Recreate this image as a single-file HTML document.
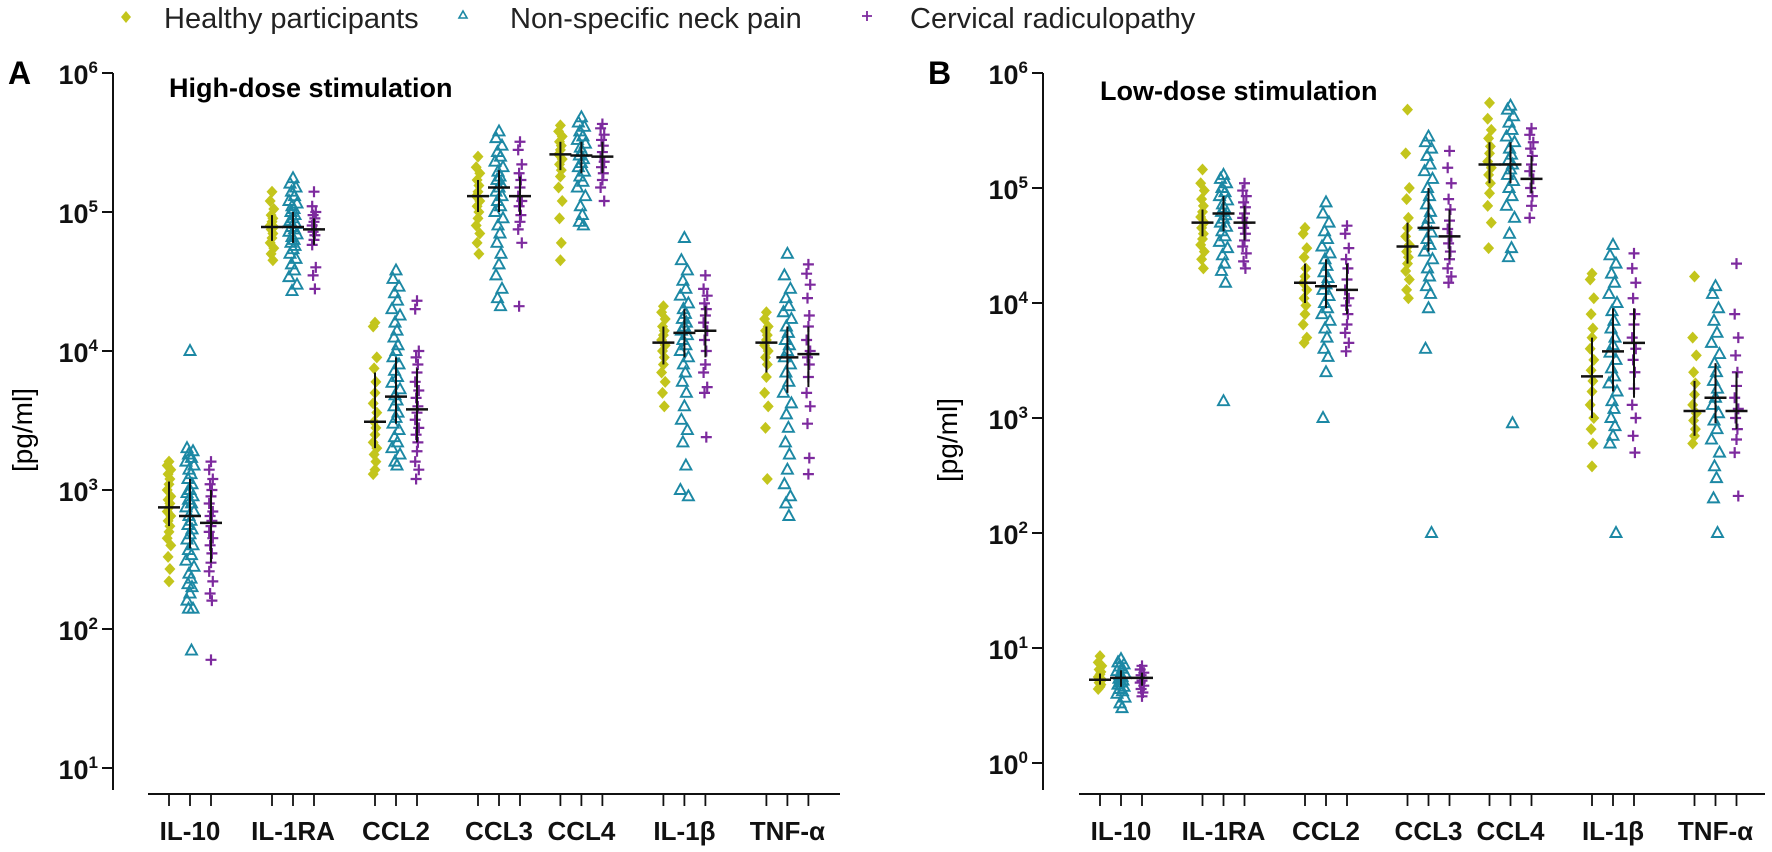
<!DOCTYPE html>
<html><head><meta charset="utf-8"><style>
html,body{margin:0;padding:0;background:#fff}
svg{display:block;font-family:"Liberation Sans",Arial,sans-serif}
</style></head><body>
<svg id="chart" width="1772" height="852" viewBox="0 0 1772 852" xmlns="http://www.w3.org/2000/svg">
<g>
<g><path d="M126 11 L131 17 L126 23 L121 17Z" fill="#c3c51c"/><text x="164" y="28" font-size="29" fill="#222">Healthy participants</text></g>
<g><path d="M463 11 L467 18 L459 18Z" fill="none" stroke="#1c88a4" stroke-width="1.6"/><text x="510" y="28" font-size="29" fill="#222">Non-specific neck pain</text></g>
<g><path d="M867 11 V21 M862 16 H872" stroke="#7d2a9e" stroke-width="1.8"/><text x="910" y="28" font-size="29" fill="#222">Cervical radiculopathy</text></g>
</g>
<text x="8" y="84" font-size="32" font-weight="bold">A</text>
<text x="928" y="84" font-size="32" font-weight="bold">B</text>
<text x="169" y="97" font-size="27" font-weight="bold">High-dose stimulation</text>
<text x="1100" y="100" font-size="27" font-weight="bold">Low-dose stimulation</text>
<text transform="translate(32,430) rotate(-90)" text-anchor="middle" font-size="28">[pg/ml]</text>
<text transform="translate(957,440) rotate(-90)" text-anchor="middle" font-size="28">[pg/ml]</text>
</svg>
<script>
const categories = ["IL-10","IL-1RA","CCL2","CCL3","CCL4","IL-1β","TNF-α"];
const groups = ["healthy","neck-pain","radiculopathy"];
// Panel A (high-dose) values, pg/ml
const aHealthy = [
 [1600,1500,1400,1300,1200,1100,1000,900,850,800,750,700,650,600,550,500,450,400,330,270,220],
 [140000,120000,105000,95000,90000,85000,80000,78000,75000,70000,65000,60000,55000,50000,45000],
 [16000,15000,9000,7500,6000,5000,4200,3600,3100,2800,2500,2200,2000,1800,1600,1400,1300],
 [250000,210000,190000,170000,155000,140000,130000,120000,110000,100000,90000,80000,70000,60000,50000],
 [420000,380000,350000,320000,300000,280000,260000,240000,220000,200000,180000,150000,120000,90000,60000,45000],
 [21000,19000,17000,15000,14000,13000,12000,11000,10000,9000,8000,7000,6000,5000,4000],
 [19000,17000,15000,14000,13000,12000,11000,10000,9000,8000,6500,5000,4000,2800,1200]];
const aNeck = [
 [10000,2000,1900,1800,1700,1600,1500,1400,1300,1200,1100,1000,950,900,850,800,750,700,650,600,560,520,480,440,400,370,340,310,280,250,230,210,200,180,160,140,140,70],
 [175000,160000,150000,140000,130000,120000,115000,110000,105000,100000,95000,90000,86000,82000,78000,75000,72000,69000,66000,63000,60000,57000,54000,50000,46000,42000,38000,34000,30000,27000],
 [38000,33000,29000,26000,23000,20000,18000,16000,14000,12500,11000,10000,9000,8000,7200,6500,5900,5300,4800,4400,4000,3600,3300,3000,2700,2400,2200,2000,1800,1600,1500],
 [380000,340000,300000,270000,250000,230000,210000,195000,180000,170000,160000,150000,140000,130000,120000,110000,100000,90000,80000,70000,60000,50000,42000,35000,28000,24000,21000],
 [480000,440000,410000,380000,350000,330000,310000,290000,270000,255000,240000,225000,210000,195000,180000,165000,150000,130000,110000,95000,85000,80000],
 [65000,45000,38000,32000,28000,25000,22000,20000,18500,17000,16000,15000,14000,13000,12000,11000,10000,9000,8000,7000,6000,5000,4000,3200,2700,2200,1500,1000,900],
 [50000,35000,28000,24000,21000,19000,17000,15000,13500,12000,11000,10000,9000,8000,7000,6000,5000,4200,3500,2800,2200,1800,1400,1100,900,800,650]];
const aRadic = [
 [1600,1400,1200,1100,1000,900,800,700,650,600,550,500,450,400,350,300,260,220,180,160,60],
 [140000,110000,100000,95000,90000,85000,80000,75000,72000,68000,63000,58000,40000,35000,28000],
 [23000,20000,10000,9000,8000,7000,6000,5200,4600,4000,3600,3200,2800,2500,2200,1900,1600,1400,1200],
 [320000,280000,220000,190000,170000,150000,130000,120000,110000,95000,85000,75000,60000,21000],
 [430000,400000,360000,330000,300000,270000,250000,230000,210000,190000,170000,150000,120000],
 [35000,28000,25000,22000,20000,18000,16000,14000,12000,10000,8000,7000,5500,5000,2400],
 [42000,36000,30000,24000,18000,15000,12000,10000,9000,8000,6500,5000,4000,3000,1700,1300]];
const aMedian = [[750,650,580],[78000,78000,75000],[3100,4700,3800],[130000,150000,130000],[260000,255000,250000],[11500,13500,14000],[11500,9000,9500]];
const aQ1 = [[550,380,300],[62000,60000,58000],[2000,3000,2200],[100000,100000,95000],[200000,190000,190000],[8000,9000,9000],[7000,5000,5500]];
const aQ3 = [[1150,1200,1000],[95000,100000,90000],[7000,9000,7500],[170000,200000,180000],[320000,320000,320000],[15000,20000,21000],[15000,15000,15000]];
// Panel B (low-dose) values, pg/ml
const bHealthy = [
 [8.5,7.5,7,6.5,6.2,5.9,5.6,5.3,5,4.8,4.6,4.4],
 [145000,110000,95000,80000,70000,62000,56000,50000,45000,40000,36000,32000,28000,24000,20000],
 [45000,40000,30000,25000,20000,17000,15000,13000,11000,9500,8000,6500,5000,4500],
 [480000,200000,100000,80000,55000,45000,38000,32000,28000,25000,22000,19000,16000,13000,11000],
 [550000,400000,320000,270000,230000,200000,170000,150000,130000,110000,90000,70000,50000,30000],
 [18000,16000,11000,8000,6000,5000,4000,3200,2600,2100,1700,1300,1000,800,600,380],
 [17000,5000,3500,2500,2000,1600,1300,1100,950,800,700,600]];
const bNeck = [
 [8,7.5,7.2,6.9,6.6,6.3,6,5.8,5.6,5.4,5.2,5,4.8,4.6,4.4,4.2,4,3.7,3.3,3],
 [130000,120000,110000,100000,92000,85000,78000,72000,67000,62000,58000,54000,50000,46000,42000,38000,34000,30000,26000,22000,19000,15000,1400],
 [75000,60000,50000,42000,36000,31000,27000,24000,21000,18500,16500,14500,13000,11500,10000,9000,8000,7000,6000,5000,4000,3400,2500,1000],
 [280000,250000,220000,190000,160000,140000,120000,100000,85000,72000,62000,54000,47000,41000,36000,32000,28000,24000,20000,17000,14000,12000,9000,4000,100],
 [520000,480000,420000,370000,320000,280000,250000,220000,195000,175000,160000,145000,130000,115000,100000,85000,70000,55000,40000,30000,25000,900],
 [32000,26000,22000,18000,15000,12000,10000,8500,7000,6000,5000,4300,3700,3200,2700,2300,2000,1700,1400,1200,1000,850,700,600,100],
 [14000,12000,9000,7000,5500,4500,3600,3000,2500,2100,1800,1500,1300,1100,950,800,650,500,380,300,200,100]];
const bRadic = [
 [7,6.5,6.1,5.8,5.5,5.2,5,4.7,4.4,4.1,3.8],
 [110000,95000,85000,75000,68000,60000,55000,50000,45000,40000,35000,31000,27000,23000,20000],
 [47000,40000,30000,24000,20000,16000,13000,11000,9500,8000,6500,5500,4500,3800],
 [210000,150000,110000,80000,65000,52000,44000,38000,33000,28000,24000,20000,17000,15000],
 [330000,290000,250000,220000,190000,160000,140000,120000,100000,85000,70000,55000],
 [27000,20000,15000,11000,8000,6500,5000,4000,3200,2500,1800,1300,1000,700,500],
 [22000,8000,5000,3500,2500,1900,1500,1200,1000,800,650,500,210]];
const bMedian = [[5.3,5.5,5.5],[50000,60000,50000],[15000,14000,13000],[31000,45000,38000],[160000,160000,120000],[2300,3800,4500],[1150,1500,1150]];
const bQ1 = [[4.8,4.6,4.7],[38000,42000,35000],[10000,9000,8000],[22000,28000,24000],[110000,110000,90000],[1000,1700,1500],[700,900,800]];
const bQ3 = [[6,6.4,6.1],[65000,85000,70000],[22000,24000,22000],[50000,100000,65000],[250000,250000,190000],[5000,9000,9000],[2100,3000,2500]];
const aTicks = [1,2,3,4,5,6];
const bTicks = [0,1,2,3,4,5,6];

const NS = "http://www.w3.org/2000/svg";
const svg = document.getElementById("chart");
const colors = ["#c3c51c","#1c88a4","#7d2a9e"];
const slots = [0,1,2,3,3.8,4.8,5.8];
function mk(tag, attrs, parent){const e=document.createElementNS(NS,tag);for(const k in attrs)e.setAttribute(k,attrs[k]);(parent||svg).appendChild(e);return e;}

function panel(cfg){
  const P = mk("g",{});
  
  
  const y = v => cfg.yTop + (cfg.maxExp - Math.log10(v)) * cfg.dec;
  const xc = (ci, gi) => cfg.x0 + slots[ci]*cfg.step + (gi-1)*21;
  const ya = mk("g",{},P);
  
  
  mk("line",{x1:cfg.yx,y1:cfg.yTop,x2:cfg.yx,y2:790,stroke:"#111","stroke-width":2},ya);
  cfg.ticks.forEach(e=>{
    const ty = y(Math.pow(10,e));
    mk("line",{x1:cfg.yx-11,y1:ty,x2:cfg.yx,y2:ty,stroke:"#111","stroke-width":2},ya);
    const t = mk("text",{x:cfg.yx-15,y:ty+11,"text-anchor":"end","font-size":27,"font-weight":"bold",fill:"#111"},ya);
    
    
    const a = mk("tspan",{},t); a.textContent="10";
    const s = mk("tspan",{"font-size":17,dy:-11},t); s.textContent=String(e);
  });
  const xa = mk("g",{},P);
  
  
  mk("line",{x1:cfg.xStart,y1:794,x2:cfg.xEnd,y2:794,stroke:"#111","stroke-width":2},xa);
  categories.forEach((c,ci)=>{
    for(let gi=0;gi<3;gi++) mk("line",{x1:xc(ci,gi),y1:794,x2:xc(ci,gi),y2:806,stroke:"#111","stroke-width":1.8},xa);
    const t = mk("text",{x:xc(ci,1),y:840,"text-anchor":"middle","font-size":26,"font-weight":"bold",fill:"#111"},xa);
    
    
    t.textContent=c;
  });
  const jit = [0,-3,3,-1.5,1.5,-4,4,-1,1,-2,2];
  const series = [cfg.h, cfg.n, cfg.r];
  categories.forEach((c,ci)=>{
    for(let gi=0;gi<3;gi++){
      const g = mk("g",{},P);
      
      
      const vals = series[gi][ci];
      const cx = xc(ci,gi);
      vals.forEach((v,i)=>{
        const px = cx + (gi===1 ? jit[i%jit.length] : jit[i%5]*0.6);
        const py = y(v);
        let m;
        if(gi===0) m = mk("path",{d:`M${px} ${py-6}L${px+5.5} ${py}L${px} ${py+6}L${px-5.5} ${py}Z`,fill:colors[0]},g);
        else if(gi===1) m = mk("path",{d:`M${px} ${py-6}L${px+5.5} ${py+4}L${px-5.5} ${py+4}Z`,fill:"none",stroke:colors[1],"stroke-width":1.9},g);
        else m = mk("path",{d:`M${px-5.5} ${py}H${px+5.5}M${px} ${py-5.5}V${py+5.5}`,stroke:colors[2],"stroke-width":2.2},g);
        
        
      });
      const st = mk("g",{},P);
      
      
      mk("line",{x1:cx,y1:y(cfg.q3[ci][gi]),x2:cx,y2:y(cfg.q1[ci][gi]),stroke:"#111","stroke-width":2},st);
      mk("line",{x1:cx-11,y1:y(cfg.med[ci][gi]),x2:cx+11,y2:y(cfg.med[ci][gi]),stroke:"#111","stroke-width":2.5},st);
    }
  });
}
panel({name:"panel-a-high-dose",yx:113,yTop:73,maxExp:6,dec:139,ticks:aTicks,x0:190,step:103,xStart:148,xEnd:840,h:aHealthy,n:aNeck,r:aRadic,med:aMedian,q1:aQ1,q3:aQ3});
panel({name:"panel-b-low-dose",yx:1043,yTop:73,maxExp:6,dec:115,ticks:bTicks,x0:1121,step:102.5,xStart:1079,xEnd:1765,h:bHealthy,n:bNeck,r:bRadic,med:bMedian,q1:bQ1,q3:bQ3});
</script>
</body></html>
